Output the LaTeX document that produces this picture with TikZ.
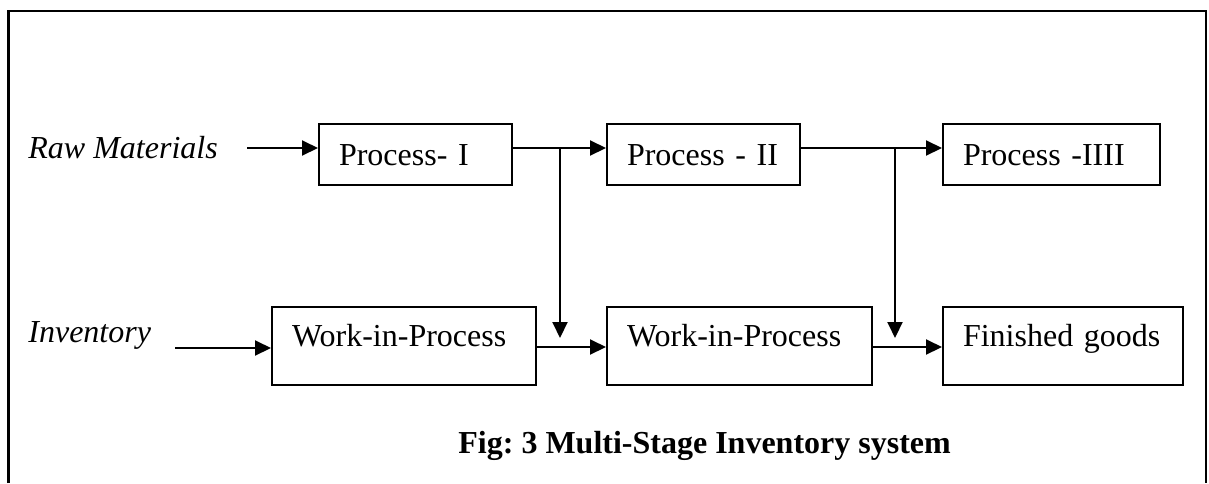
\documentclass[tikz,border=0pt]{standalone}
\usepackage{fontspec}
\setmainfont{Liberation Serif}
\usetikzlibrary{arrows.meta,positioning,calc}
\frenchspacing

\begin{document}
\begin{tikzpicture}[x=0.5pt, y=-0.5pt,
    pbox/.style={rectangle, draw, line width=1pt, inner xsep=10pt, inner ysep=0pt,
      align=left, font=\fontsize{16}{19}\selectfont},
    toprow/.style={text height=20.5pt, text depth=10pt},
    botrow/.style={text height=19.5pt, text depth=19.5pt},
    lbl/.style={inner sep=0pt, font=\fontsize{16}{19}\selectfont\itshape},
    arr/.style={-{Triangle[length=8pt,width=7.5pt]}, line width=1pt}
  ]
    \useasboundingbox (0,0) rectangle (1209,483);
    \draw[line width=1.3pt] (8.5,483) -- (8.5,11) -- (1206,11) -- (1206,483);

    \node[lbl, anchor=base west] (raw) at (28,158) {Raw Materials};
    \node[lbl, anchor=base west] (inv) at (28,342) {Inventory};

    \node[pbox, toprow, text width=76.5pt]  (p1) at (415.5,154.5) {Process- I};
    \node[pbox, toprow, text width=76.5pt]  (p2) at (703.5,154.5) {Process - II};
    \node[pbox, toprow, text width=88.5pt]  (p3) at (1051.5,154.5){Process -IIII};
    \node[pbox, botrow, text width=112pt]   (w1) at (404,346)     {Work-in-Process};
    \node[pbox, botrow, text width=112.5pt] (w2) at (739.5,346)   {Work-in-Process};
    \node[pbox, botrow, text width=100pt]   (fg) at (1063,346)    {Finished goods};

    \coordinate (rawin) at (247,148);
    \coordinate (invin) at (175,348);
    \coordinate (j1) at (560,148);
    \coordinate (j2) at (895,148);
    \coordinate (d1) at (560,338);
    \coordinate (d2) at (895,338);
    \coordinate (k1) at (560,347);
    \coordinate (k2) at (895,347);

    \draw[arr] (rawin) -- (rawin -| p1.west);
    \draw[arr] (p1.east |- j1) -- (j1 -| p2.west);
    \draw[arr] (p2.east |- j2) -- (j2 -| p3.west);
    \draw[arr] (j1) -- (d1);
    \draw[arr] (j2) -- (d2);

    \draw[arr] (invin) -- (invin -| w1.west);
    \draw[arr] (w1.east |- k1) -- (k1 -| w2.west);
    \draw[arr] (w2.east |- k2) -- (k2 -| fg.west);

    % caption
    \node[inner sep=0pt, anchor=base west, font=\fontsize{16}{19}\selectfont\bfseries]
      (cap) at (458,453) {Fig: 3 Multi-Stage Inventory system};
  \end{tikzpicture}
\end{document}
